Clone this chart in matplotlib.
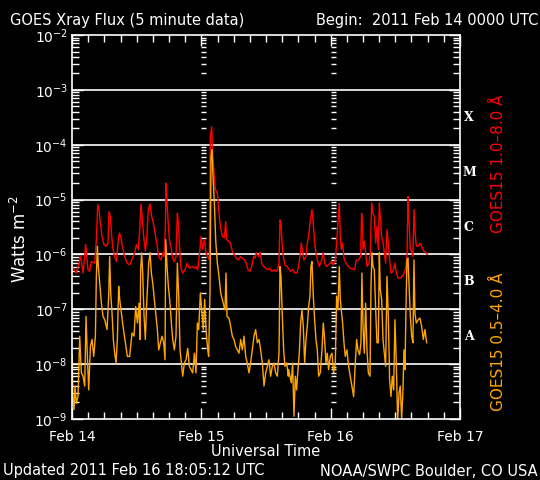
import numpy as np
import matplotlib
matplotlib.use("Agg")
import matplotlib.pyplot as plt
from matplotlib.ticker import FixedLocator, NullFormatter

# hours since 2011 Feb 14 00:00 UTC, log10 flux (W m^-2)
red_hours = [0.0, 0.81, 1.61, 2.05, 2.54, 2.97, 3.28, 3.59, 4.21, 4.52, 4.77, 5.02, 5.26, 5.57,
             5.94, 6.38, 6.68, 6.87, 7.12, 7.37, 7.61, 7.92, 8.23, 8.54, 8.79, 9.03, 9.34, 9.78,
             10.21, 10.70, 11.20, 11.63, 11.94, 12.31, 12.56, 12.81, 13.05,
             13.30, 13.61, 13.86, 14.17, 14.48, 14.79, 15.10, 15.41, 15.72, 16.09, 16.52, 16.83,
             17.08, 17.32, 17.45, 17.63, 17.82, 18.07, 18.44, 18.69, 18.99, 19.30, 19.55, 19.74,
             19.92, 20.17, 20.54, 20.97, 21.34, 21.78, 22.27, 22.70, 23.01, 23.32, 23.75, 23.94,
             24.25, 24.56, 24.87, 25.18, 25.49, 25.67, 25.92, 26.10, 26.35, 26.60,
             26.97, 27.28, 27.53, 27.90, 28.27, 28.52, 28.70, 29.01, 29.38, 29.75, 30.12, 30.49,
             30.87, 31.24, 31.61, 31.98, 32.35, 32.66, 33.03, 33.34, 33.71, 33.96, 34.20, 34.58,
             34.95, 35.19, 35.57, 35.94, 36.31, 36.68, 37.05, 37.48, 37.79, 38.16, 38.41, 38.60,
             38.78, 38.97, 39.21, 39.52, 39.89, 40.26,
             40.57, 40.94, 41.31, 41.75, 42.06, 42.36, 42.55, 42.80, 43.04, 43.42, 43.66, 43.91,
             44.16, 44.34, 44.53, 44.78, 45.02, 45.27, 45.52, 45.89, 46.26, 46.63, 46.88, 47.25,
             47.62, 48.12, 48.49, 48.86, 49.10, 49.35, 49.60, 49.79, 49.97, 50.22, 50.47, 50.84,
             51.21, 51.64, 52.07, 52.44, 52.75, 53.19, 53.56, 53.74, 53.93,
             54.00, 54.24, 54.49, 54.74, 55.11, 55.36, 55.61, 55.85, 56.10, 56.35, 56.59, 56.84,
             57.03, 57.21, 57.46, 57.71, 57.96, 58.20, 58.45, 58.70, 58.94, 59.19, 59.56, 59.93,
             60.18, 60.55, 60.92, 61.29, 61.67, 61.97, 62.16, 62.35, 62.53, 62.78, 63.03, 63.27,
             63.46, 63.64, 63.89, 64.26, 64.57, 64.88, 65.25, 65.62, 65.93]
red_log = [-6.22, -6.34, -6.04, -6.34, -5.82, -6.28, -6.31, -6.13, -6.16, -5.73, -5.09, -5.18, -5.43, -5.67,
           -5.82, -5.85, -5.79, -5.22, -5.31, -5.67, -5.91, -6.04, -6.13, -5.79, -5.61, -5.67, -5.85, -6.04,
           -6.16, -6.19, -6.07, -5.97, -5.82, -5.91, -5.55, -5.08, -5.37,
           -5.67, -5.94, -5.73, -5.18, -5.08, -5.31, -5.43, -5.61, -5.79, -6.04, -6.10, -5.97,
           -6.04, -5.55, -4.70, -5.06, -5.37, -5.73, -5.91, -6.07, -6.13, -6.04, -5.25, -5.43,
           -5.79, -6.22, -6.34, -6.28, -6.16, -6.25, -6.22, -6.25, -6.22, -6.28, -5.91, -5.67,
           -5.91, -5.73, -5.97, -6.04, -6.10, -3.85, -3.67, -4.15, -4.52, -4.82,
           -4.88, -5.25, -5.49, -5.67, -5.70, -5.40, -5.73, -5.76, -5.79, -5.94, -6.00, -6.07,
           -6.10, -6.04, -6.07, -6.10, -6.16, -6.28, -6.31, -6.22, -6.04, -6.07, -5.97, -6.04,
           -5.96, -6.16, -6.22, -6.25, -6.28, -6.25, -6.31, -6.28, -6.31, -6.28, -6.16, -5.37,
           -5.43, -5.79, -6.04, -6.19, -6.22, -6.27,
           -6.31, -6.27, -6.34, -6.33, -6.22, -5.97, -5.79, -5.97, -6.10, -6.04, -5.79, -5.67,
           -5.43, -5.31, -5.18, -5.43, -5.79, -5.97, -6.10, -6.22, -6.13, -5.97, -6.16, -6.22,
           -6.19, -6.13, -6.19, -6.10, -5.79, -5.43, -5.06, -5.67, -5.91, -5.79, -6.07, -6.16,
           -6.21, -6.25, -6.27, -6.28, -6.10, -6.10, -6.04, -5.25, -5.49,
           -5.91, -5.76, -5.97, -6.22, -6.16, -5.97, -5.06, -5.25, -5.31, -5.79, -5.49, -5.91,
           -5.06, -5.31, -5.67, -5.79, -5.97, -6.16, -5.55, -5.79, -6.10, -6.34, -6.31, -6.16,
           -6.34, -6.43, -6.43, -6.40, -6.34, -6.22, -6.04, -4.94, -5.37, -5.91, -5.94, -6.04,
           -5.18, -5.55, -5.85, -5.85, -5.80, -5.85, -5.94, -5.96, -6.00]

orange_hours = [0.0, 0.19, 0.38, 0.56, 0.81, 1.12, 1.43, 1.74, 2.05, 2.36, 2.60, 2.85, 3.10, 3.41,
                3.72, 4.03, 4.34, 4.52, 4.71, 4.89, 5.14, 5.45, 5.76, 6.07, 6.50, 6.81, 6.99, 7.18,
                7.43, 7.67, 7.92, 8.17, 8.42, 8.66, 8.85, 9.16, 9.47, 9.90, 10.27, 10.70, 11.14,
                11.51, 11.82, 12.13, 12.44, 12.62, 12.74, 12.93,
                13.12, 13.37, 13.61, 13.86, 14.23, 14.48, 14.73, 14.98, 15.28, 15.59, 15.84, 16.09,
                16.40, 16.71, 17.02, 17.26, 17.39, 17.63, 17.88, 18.19, 18.44, 18.69, 18.99, 19.30,
                19.55, 19.80, 20.05, 20.29, 20.54, 20.85, 21.16, 21.47, 21.78, 22.09, 22.40, 22.71,
                23.01, 23.26, 23.51, 23.82, 24.06, 24.37, 24.62, 24.87, 25.18, 25.36, 25.61, 25.80,
                25.98, 26.17, 26.42,
                26.66, 26.97, 27.28, 27.59, 27.90, 28.21, 28.39, 28.58, 28.76, 29.13, 29.44, 29.75,
                30.06, 30.37, 30.68, 30.99, 31.30, 31.61, 31.92, 32.23, 32.53, 32.84, 33.15, 33.46,
                33.77, 34.08, 34.39, 34.70, 35.01, 35.32, 35.63, 35.94, 36.25, 36.55, 36.86, 37.17,
                37.48, 37.79, 38.10, 38.41, 38.60, 38.78, 39.03, 39.28, 39.52, 39.83, 40.14,
                40.20, 40.45, 40.69, 40.94, 41.19, 41.44, 41.68, 41.93, 42.18, 42.43, 42.67, 42.92,
                43.17, 43.42, 43.66, 43.91, 44.16, 44.34, 44.53, 44.78, 45.02, 45.27, 45.52, 45.77,
                46.07, 46.38, 46.63, 46.88, 47.13, 47.37, 47.62, 47.93, 48.24, 48.55, 48.86, 49.10,
                49.35, 49.60, 49.79, 49.97, 50.22, 50.47, 50.71, 51.02, 51.33, 51.64, 51.95, 52.26,
                52.57, 52.82, 53.06, 53.37, 53.62, 53.80,
                54.00, 54.24, 54.49, 54.74, 54.99, 55.30, 55.48, 55.67, 55.85, 56.10, 56.35, 56.59,
                56.84, 57.03, 57.21, 57.46, 57.71, 57.96, 58.20, 58.45, 58.70, 58.94, 59.19, 59.44,
                59.69, 59.93, 60.18, 60.43, 60.68, 60.92, 61.17, 61.42, 61.60, 61.79, 61.97, 62.16,
                62.35, 62.53, 62.78, 63.03, 63.27, 63.46, 63.64, 63.89, 64.26, 64.57, 64.88, 65.19,
                65.50, 65.81]
orange_log = [-7.83, -8.65, -8.83, -8.40, -8.71, -8.59, -7.49, -8.16, -8.22, -8.40, -7.13, -7.86, -8.47, -7.68,
              -7.55, -7.86, -7.49, -6.40, -5.85, -6.22, -6.52, -6.89, -7.13, -7.19, -7.37, -6.76, -6.04, -6.70,
              -7.07, -7.55, -7.80, -7.98, -7.55, -6.58, -6.82, -7.07, -7.31, -7.61, -7.86, -7.86, -7.43,
              -7.49, -6.95, -7.25, -6.89, -7.55, -6.28, -5.97,
              -6.34, -7.13, -7.55, -6.89, -6.16, -5.97, -6.34, -6.52, -6.82, -7.13, -7.37, -7.74,
              -7.61, -7.49, -7.61, -7.92, -5.73, -6.22, -6.58, -6.89, -7.25, -7.55, -7.74, -7.49,
              -6.16, -6.76, -7.74, -7.98, -8.22, -7.98, -7.92, -7.71, -8.04, -8.10, -8.16, -7.80,
              -8.16, -7.25, -7.37, -6.70, -7.01, -7.37, -6.82, -7.37, -7.74, -7.86, -6.64, -4.21,
              -4.09, -4.58, -5.06,
              -5.73, -6.16, -6.40, -6.70, -6.82, -6.95, -7.01, -6.34, -7.13, -7.16, -7.31, -7.49,
              -7.55, -7.68, -7.74, -7.80, -7.55, -7.74, -7.49, -7.86, -7.98, -8.16, -7.98, -7.74,
              -7.49, -7.37, -7.61, -7.55, -7.74, -7.98, -8.40, -8.16, -8.04, -7.92, -8.22, -8.04,
              -7.98, -8.16, -8.22, -7.80, -6.22, -6.40, -7.13, -7.74, -8.04, -7.98, -8.22,
              -8.10, -8.22, -8.34, -7.98, -8.95, -8.22, -8.47, -8.10, -7.80, -7.25, -7.01, -7.31,
              -7.98, -7.55, -7.31, -6.95, -6.76, -6.22, -6.13, -6.76, -7.19, -7.55, -7.74, -8.22,
              -8.16, -7.74, -7.25, -7.55, -7.98, -7.80, -8.10, -7.86, -7.80, -8.16, -7.98, -6.76,
              -7.01, -6.22, -6.82, -7.01, -7.25, -7.61, -7.86, -7.74, -8.04, -8.22, -8.40, -8.59,
              -7.98, -7.55, -7.74, -7.83, -7.61, -6.34,
              -7.31, -7.80, -6.89, -7.74, -8.16, -8.22, -6.58, -5.97, -6.22, -6.28, -7.01, -7.61,
              -7.61, -5.97, -6.64, -6.82, -7.55, -7.80, -8.04, -6.40, -7.13, -8.28, -8.59, -8.22,
              -8.47, -7.19, -7.98, -9.05, -8.53, -8.40, -9.00, -8.47, -7.74, -8.10, -7.01, -6.10,
              -6.07, -6.52, -7.13, -7.49, -7.61, -6.10, -7.07, -7.25, -7.19, -7.16, -7.31, -7.55,
              -7.37, -7.61]

day_hours = [0, 24, 48, 72]
day_labels = ["Feb 14", "Feb 15", "Feb 16", "Feb 17"]
class_names = ["X", "M", "C", "B", "A"]
class_flux = [10 ** -3.5, 10 ** -4.5, 10 ** -5.5, 10 ** -6.5, 10 ** -7.5]

plt.rcParams['font.family'] = ['DejaVu Sans']

fig = plt.figure(figsize=(5.4, 4.8), dpi=100, facecolor='black')
ax = fig.add_axes([72 / 540, 1 - 419 / 480, 388 / 540, 384 / 480])
ax.set_facecolor('black')

ax.plot(red_hours, 10 ** np.array(red_log), color='#ff0000', lw=1.0)
ax.plot(orange_hours, 10 ** np.array(orange_log), color='#ffa500', lw=1.0)

ax.set_yscale('log')
ax.set_ylim(1e-9, 1e-2)
ax.set_xlim(0, 72)

for d in range(-8, -2):
    ax.axhline(10.0 ** d, color='white', lw=1.2, zorder=1)

# tick marks repeated at each day boundary
tick_y = [k * 10.0 ** d for d in range(-9, -2) for k in range(2, 10)]
for h in day_hours[1:3]:
    ax.plot([h] * len(tick_y), tick_y, ls='none', marker=1, ms=3.5,
            mew=1, color='white', zorder=1)

for s in ax.spines.values():
    s.set_color('white')
    s.set_linewidth(1.2)

ax.xaxis.set_major_locator(FixedLocator(day_hours))
ax.xaxis.set_minor_locator(FixedLocator([h for h in range(0, 73, 3) if h % 24]))
ax.set_xticklabels(day_labels)
ax.yaxis.set_minor_formatter(NullFormatter())
ax.tick_params(which='both', direction='in', top=True, right=True,
               colors='white', labelsize=10)
ax.tick_params(axis='x', which='major', length=8, width=1, pad=8)
ax.tick_params(axis='x', which='minor', length=5, width=1)
ax.tick_params(axis='y', which='major', length=8, width=1, pad=3)
ax.tick_params(axis='y', which='minor', length=5, width=1)

ax.set_ylabel("Watts m$^{-2}$", color='white', fontsize=12, labelpad=4)
ax.yaxis.set_label_coords(-0.108, 0.47)

for name, fv in zip(class_names, class_flux):
    ax.text(1.023, fv, name, transform=ax.get_yaxis_transform(), color='white',
            fontsize=9, fontweight='bold', family='DejaVu Serif', va='center', ha='center')

fig.text(498 / 540, 1 - 164 / 480, "GOES15 1.0\u20138.0 \u00c5", color='#ff0000',
         rotation=90, ha='center', va='center', fontsize=11)
fig.text(498 / 540, 1 - 342 / 480, "GOES15 0.5\u20134.0 \u00c5", color='#ffa500',
         rotation=90, ha='center', va='center', fontsize=11)

fig.text(10 / 540, 1 - 20 / 480, "GOES Xray Flux (5 minute data)", color='white',
         fontsize=10.5, va='center', ha='left')
fig.text(538 / 540, 1 - 20 / 480, "Begin:  2011 Feb 14 0000 UTC", color='white',
         fontsize=10.5, va='center', ha='right')
fig.text(266 / 540, 1 - 451 / 480, "Universal Time", color='white',
         fontsize=10.5, va='center', ha='center')
fig.text(3 / 540, 1 - 471 / 480, "Updated 2011 Feb 16 18:05:12 UTC", color='white',
         fontsize=10.5, va='center', ha='left')
fig.text(538 / 540, 1 - 471 / 480, "NOAA/SWPC Boulder, CO USA", color='white',
         fontsize=10.5, va='center', ha='right')

fig.savefig("out.png", dpi=100, facecolor='black')
